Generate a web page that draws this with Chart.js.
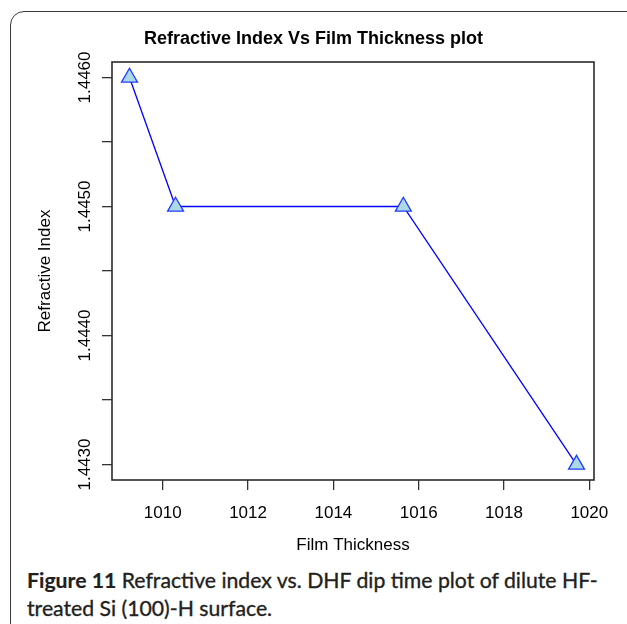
<!DOCTYPE html>
<html>
<head>
<meta charset="utf-8">
<script src="https://cdn.jsdelivr.net/npm/chart.js@4.4.1/dist/chart.umd.min.js"></script>
<style>
html, body { margin: 0; padding: 0; background: #fff; }
#wrap { position: relative; width: 627px; height: 624px; overflow: hidden; }
#frame { position: absolute; left: 10px; top: 11px; width: 700px; height: 700px;
  border: 1.6px solid #3a3a3a; border-top-left-radius: 14px; box-sizing: border-box; }
#c { position: absolute; left: 0; top: 0; }
#cap { position: absolute; left: 27px; top: 566px; font-family: Lato, "Open Sans", sans-serif;
  color: #231f20; line-height: 28px; white-space: nowrap; font-size: 20px;
  -webkit-text-stroke: 0.35px #231f20; }
#cap b { font-weight: 700; -webkit-text-stroke: 0.2px #231f20; }
</style>
</head>
<body>
<div id="wrap">
  <div id="frame"></div>
  <canvas id="c" width="627" height="560"></canvas>
  <div id="cap"><span id="l1"><b>Figure 11</b> Refractive index vs. DHF dip time plot of dilute HF-</span><br>treated Si (100)-H surface.</div>
</div>
<script>
// values
const thickness = [1009.22, 1010.30, 1015.64, 1019.70];
const refIndex  = [1.4460, 1.4450, 1.4450, 1.4430];

const xTicks  = [1010, 1012, 1014, 1016, 1018, 1020];
const yTicks  = [1.4430, 1.4435, 1.4440, 1.4445, 1.4450, 1.4455, 1.4460];
const yLabels = ["1.4430", "", "1.4440", "", "1.4450", "", "1.4460"];

const FONT = "'Liberation Sans', Arial, Helvetica, sans-serif";

// fit caption first line to the width seen in the picture
(function fitCaption(){
  const cap = document.getElementById("cap");
  const l1 = document.getElementById("l1");
  const w = l1.getBoundingClientRect().width;
  cap.style.fontSize = (20 * 571 / w).toFixed(2) + "px";
})();

// R-style box round the plot region
const boxPlugin = {
  id: "box",
  afterDraw(chart){
    const {ctx, chartArea: a} = chart;
    ctx.save();
    ctx.strokeStyle = "#2b2b2b";
    ctx.lineWidth = 1.6;
    ctx.strokeRect(a.left, a.top, a.right - a.left, a.bottom - a.top);
    ctx.restore();
  }
};

// vertical y tick labels (Chart.js won't rotate labels on a vertical axis)
const yLabelPlugin = {
  id: "ylabels",
  afterDraw(chart){
    const s = chart.scales.y;
    const ctx = chart.ctx;
    ctx.save();
    ctx.fillStyle = "#000";
    ctx.font = "17px " + FONT;
    ctx.textAlign = "center";
    ctx.textBaseline = "middle";
    s.ticks.forEach((t, i) => {
      if (!yLabels[i]) return;
      const y = s.getPixelForValue(t.value);
      ctx.save();
      ctx.translate(85, y);
      ctx.rotate(-Math.PI / 2);
      ctx.fillText(yLabels[i], 0, 0);
      ctx.restore();
    });
    ctx.restore();
  }
};

new Chart(document.getElementById("c"), {
  type: "line",
  data: {
    datasets: [{
      data: thickness.map((x, i) => ({ x, y: refIndex[i] })),
      borderColor: "#0000ff",
      borderWidth: 1.3,
      tension: 0,
      pointStyle: "triangle",
      pointRadius: 9.2,
      pointBackgroundColor: "#add8e6",
      pointBorderColor: "#1f3cff",
      pointBorderWidth: 1.3
    }]
  },
  options: {
    responsive: false,
    animation: false,
    events: [],
    layout: { padding: { left: 0, right: 0, top: 0, bottom: 0 } },
    plugins: {
      legend: { display: false },
      tooltip: { enabled: false },
      title: {
        display: true,
        text: "Refractive Index Vs Film Thickness plot",
        color: "#000",
        font: { family: FONT, size: 18, weight: "bold", lineHeight: 1.2 },
        padding: { top: 28.4, bottom: 12 }
      }
    },
    scales: {
      x: {
        type: "linear",
        min: 1008.81,
        max: 1020.11,
        afterBuildTicks: s => { s.ticks = xTicks.map(v => ({ value: v })); },
        afterFit: s => { s.height = 80; },
        border: { display: false },
        grid: { drawOnChartArea: false, drawTicks: true, tickLength: 10, color: "#333", lineWidth: 1.3 },
        ticks: { color: "#000", font: { family: FONT, size: 17 }, padding: 13, maxRotation: 0,
                 callback: v => String(v) },
        title: { display: true, text: "Film Thickness", color: "#000",
                 font: { family: FONT, size: 17, lineHeight: 1.2 }, padding: { top: 0, bottom: 4 } }
      },
      y: {
        type: "linear",
        min: 1.44288,
        max: 1.44612,
        afterBuildTicks: s => { s.ticks = yTicks.map(v => ({ value: v })); },
        afterFit: s => { s.width = 112; },
        border: { display: false },
        grid: { drawOnChartArea: false, drawTicks: true, tickLength: 10, color: "#333", lineWidth: 1.3 },
        ticks: { color: "rgba(0,0,0,0)", font: { family: FONT, size: 17 },
                 callback: (v, i) => yLabels[i] },
        title: { display: true, text: "Refractive Index", color: "#000",
                 font: { family: FONT, size: 17, lineHeight: 1.2 }, padding: { top: 35, bottom: 0 } }
      },
      // empty right margin, so the title centres on the whole figure
      yRight: {
        position: "right",
        display: true,
        afterFit: s => { s.width = 33; },
        border: { display: false },
        grid: { display: false },
        ticks: { display: false }
      }
    }
  },
  plugins: [boxPlugin, yLabelPlugin]
});
</script>
</body>
</html>
